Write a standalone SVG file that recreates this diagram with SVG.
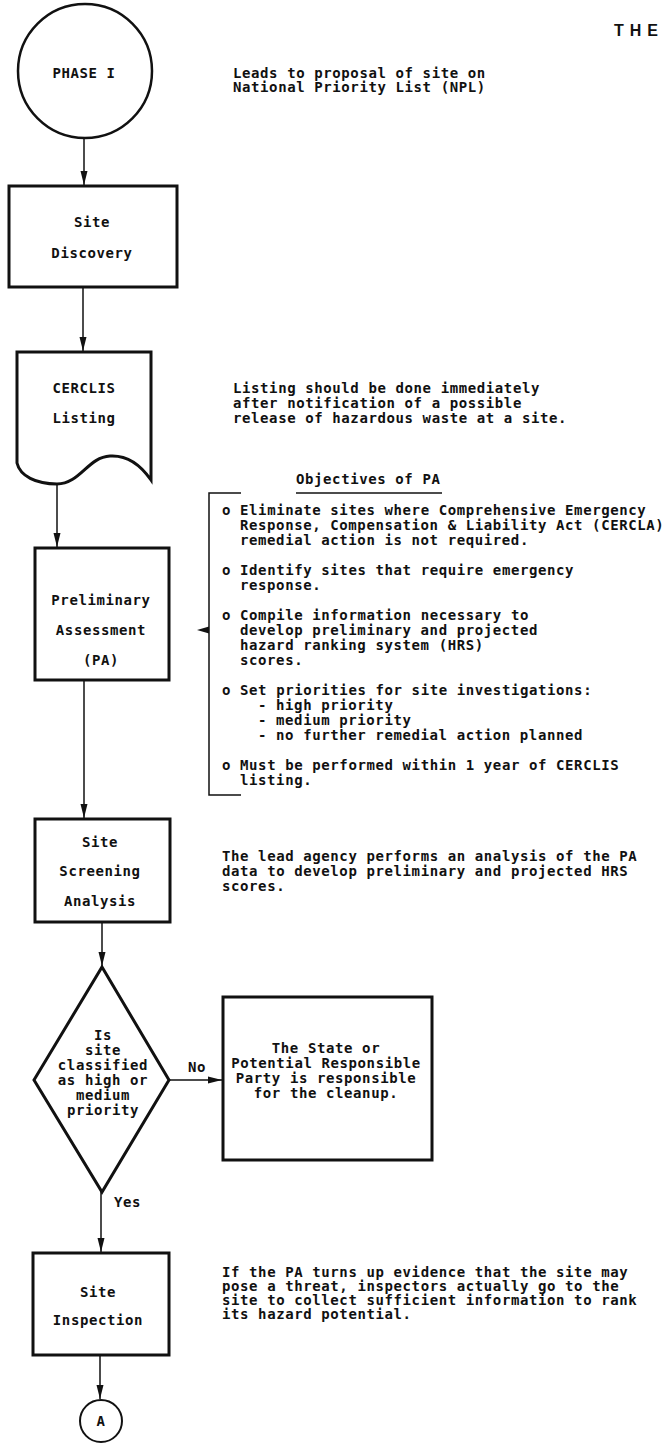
<svg xmlns="http://www.w3.org/2000/svg" width="668" height="1443" viewBox="0 0 668 1443">
<style>
.t{font-family:"DejaVu Sans Mono","Liberation Mono",monospace;font-size:14px;letter-spacing:0.6px;font-weight:bold;fill:#111}
.c{text-anchor:middle}
.box{fill:#fff;stroke:#111;stroke-width:3}
.ln{fill:none;stroke:#111;stroke-width:1.5}
.hd{font-family:"Liberation Sans",Arial,sans-serif;font-size:16px;font-weight:bold;letter-spacing:6px;fill:#111}
</style>
<defs>
<marker id="ah" markerUnits="userSpaceOnUse" markerWidth="14" markerHeight="8" refX="14" refY="4" orient="auto"><path d="M0,0.5 L14,4 L0,7.5 Z" fill="#111"/></marker>
</defs>
<rect width="668" height="1443" fill="#fff"/>
<text class="hd" x="614" y="36">THE</text>

<g id="connectors">
<path class="ln" d="M84,138 V185" marker-end="url(#ah)"/>
<path class="ln" d="M83,288 V351" marker-end="url(#ah)"/>
<path class="ln" d="M57,484 V547" marker-end="url(#ah)"/>
<path class="ln" d="M84,680 V818" marker-end="url(#ah)"/>
<path class="ln" d="M102,922 V966" marker-end="url(#ah)"/>
<path class="ln" d="M169,1080 H222" marker-end="url(#ah)"/>
<path class="ln" d="M101,1192 V1252" marker-end="url(#ah)"/>
<path class="ln" d="M100,1355 V1399" marker-end="url(#ah)"/>
<text class="t" x="188" y="1072">No</text>
<text class="t" x="114" y="1207">Yes</text>
</g>

<g id="phase1">
<circle cx="85" cy="71" r="67" fill="#fff" stroke="#111" stroke-width="2.5"/>
<text class="t c" x="84" y="78">PHASE I</text>
</g>
<g id="site-discovery">
<rect class="box" x="9" y="186" width="168" height="101"/>
<text class="t c" x="92" y="227">Site</text>
<text class="t c" x="92" y="258">Discovery</text>
</g>
<g id="cerclis-listing">
<path class="box" d="M17,352 H151 V480 C140,464 126,455 110,456 C88,457 80,484 57,484 C36,484 20,476 17,463 Z"/>
<text class="t c" x="84" y="393">CERCLIS</text>
<text class="t c" x="84" y="423">Listing</text>
</g>
<g id="preliminary-assessment">
<rect class="box" x="35" y="548" width="134" height="132"/>
<text class="t c" x="101" y="605">Preliminary</text>
<text class="t c" x="101" y="635">Assessment</text>
<text class="t c" x="101" y="665">(PA)</text>
</g>
<g id="site-screening">
<rect class="box" x="35" y="819" width="135" height="103"/>
<text class="t c" x="100" y="847">Site</text>
<text class="t c" x="100" y="876">Screening</text>
<text class="t c" x="100" y="906">Analysis</text>
</g>
<g id="decision">
<polygon points="102,967 169,1080 102,1192 34,1080" fill="#fff" stroke="#111" stroke-width="3"/>
<text class="t c" x="103" y="1040">Is</text>
<text class="t c" x="103" y="1055">site</text>
<text class="t c" x="103" y="1070">classified</text>
<text class="t c" x="103" y="1085">as high or</text>
<text class="t c" x="103" y="1100">medium</text>
<text class="t c" x="103" y="1115">priority</text>
</g>
<g id="state-prp">
<rect class="box" x="223" y="997" width="209" height="163"/>
<text class="t c" x="326" y="1053">The State or</text>
<text class="t c" x="326" y="1068">Potential Responsible</text>
<text class="t c" x="326" y="1083">Party is responsible</text>
<text class="t c" x="326" y="1098">for the cleanup.</text>
</g>
<g id="site-inspection">
<rect class="box" x="33" y="1253" width="136" height="102"/>
<text class="t c" x="98" y="1297">Site</text>
<text class="t c" x="98" y="1325">Inspection</text>
</g>
<g id="connector-a">
<circle cx="101" cy="1421" r="21" fill="#fff" stroke="#111" stroke-width="2"/>
<text class="t c" x="101" y="1426">A</text>
</g>

<g id="note-phase1">
<text class="t" x="233" y="78">Leads to proposal of site on</text>
<text class="t" x="233" y="92">National Priority List (NPL)</text>
</g>
<g id="note-cerclis">
<text class="t" x="233" y="393">Listing should be done immediately</text>
<text class="t" x="233" y="408">after notification of a possible</text>
<text class="t" x="233" y="423">release of hazardous waste at a site.</text>
</g>
<g id="note-objectives">
<text class="t" x="296" y="484">Objectives of PA</text>
<path class="ln" d="M296,493 H442"/>
<path class="ln" d="M241,493 H209 V795 H241"/>
<polygon points="197,630 209,626.5 209,633.5" fill="#111"/>
<text class="t" x="222" y="515">o Eliminate sites where Comprehensive Emergency</text>
<text class="t" x="240" y="530">Response, Compensation &amp; Liability Act (CERCLA)</text>
<text class="t" x="240" y="545">remedial action is not required.</text>
<text class="t" x="222" y="575">o Identify sites that require emergency</text>
<text class="t" x="240" y="590">response.</text>
<text class="t" x="222" y="620">o Compile information necessary to</text>
<text class="t" x="240" y="635">develop preliminary and projected</text>
<text class="t" x="240" y="650">hazard ranking system (HRS)</text>
<text class="t" x="240" y="665">scores.</text>
<text class="t" x="222" y="695">o Set priorities for site investigations:</text>
<text class="t" x="258" y="710">- high priority</text>
<text class="t" x="258" y="725">- medium priority</text>
<text class="t" x="258" y="740">- no further remedial action planned</text>
<text class="t" x="222" y="770">o Must be performed within 1 year of CERCLIS</text>
<text class="t" x="240" y="785">listing.</text>
</g>
<g id="note-screening">
<text class="t" x="222" y="861">The lead agency performs an analysis of the PA</text>
<text class="t" x="222" y="876">data to develop preliminary and projected HRS</text>
<text class="t" x="222" y="891">scores.</text>
</g>
<g id="note-inspection">
<text class="t" x="222" y="1277">If the PA turns up evidence that the site may</text>
<text class="t" x="222" y="1291">pose a threat, inspectors actually go to the</text>
<text class="t" x="222" y="1305">site to collect sufficient information to rank</text>
<text class="t" x="222" y="1319">its hazard potential.</text>
</g>
</svg>
